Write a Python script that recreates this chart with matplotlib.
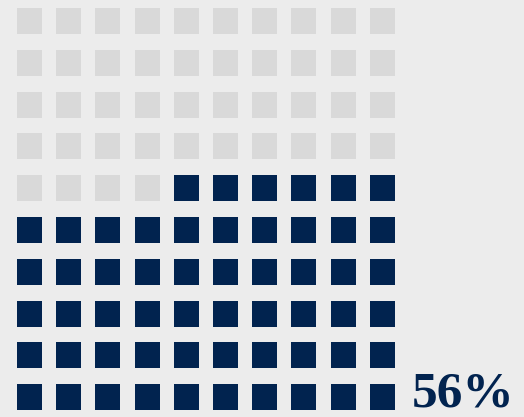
import matplotlib
matplotlib.use("Agg")
import matplotlib.pyplot as plt
from matplotlib.patches import Rectangle

# waffle data
n_rows = 10
n_cols = 10
filled = 56
label = "56%"

bg = "#ececec"
empty_color = "#d9d9d9"
fill_color = "#01234f"

fig = plt.figure(figsize=(5.24, 4.17), dpi=100, facecolor=bg)
ax = fig.add_axes([0, 0, 1, 1])
ax.set_facecolor(bg)

# one data unit = one cell pitch (39.2 px wide, 41.8 px tall)
px_w, px_h = 39.2, 41.8
x0 = -17 / px_w
y0 = -8 / px_h
ax.set_xlim(x0, x0 + 524 / px_w)
ax.set_ylim(y0 + 417 / px_h, y0)

sq_w = 25 / px_w
sq_h = 26 / px_h

for k in range(n_rows * n_cols):
    row = n_rows - 1 - k // n_cols
    col = n_cols - 1 - k % n_cols
    color = fill_color if k < filled else empty_color
    ax.add_patch(Rectangle((col, row), sq_w, sq_h, facecolor=color, edgecolor="none"))

ax.text(n_cols + 0.07, n_rows - 1 + sq_h * 0.84, label, ha="left", va="baseline",
        fontsize=37, fontweight="bold", family="Liberation Serif", color=fill_color)

ax.axis("off")
fig.savefig("out.png", dpi=100, facecolor=bg)
